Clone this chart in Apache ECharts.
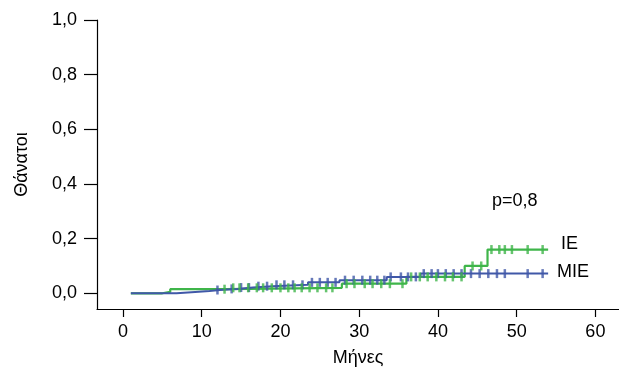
<!DOCTYPE html>
<html>
<head>
<meta charset="utf-8">
<script src="https://cdn.jsdelivr.net/npm/echarts@6/dist/echarts.min.js"></script>
<style>
  html, body { margin: 0; padding: 0; background: #fff; }
  #main { width: 619px; height: 369px; }
</style>
</head>
<body>
<div id="main"></div>
<script>
// step curves: [month, cumulative deaths] -- value holds until next point
const ieSteps = [[1, 0], [5, 0.005], [6, 0.015], [13, 0.02], [27.8, 0.035], [36, 0.06], [43.4, 0.1], [46.3, 0.16], [54, 0.16]];
const mieSteps = [[1, 0], [6.8, 0.004], [8.7, 0.008], [11, 0.012], [12.3, 0.016], [14.5, 0.021], [16.5, 0.026], [19, 0.031], [23.5, 0.04], [27.5, 0.048], [33.5, 0.06], [37.8, 0.072], [54, 0.072]];

// censored observations (months)
const ieCensored = [12.9, 14, 14.8, 15.9, 17, 17.8, 18.9, 20, 21, 21.8, 22.7, 23.7, 24.7, 25.8, 26.6,
  28.4, 29.4, 30.7, 31.7, 32.8, 33.9, 35.5, 36.6, 37.7, 38.7, 39.8, 40.9, 41.9, 43,
  44.4, 45.5, 46.8, 47.8, 48.5, 49.4, 51.4, 53.3];
const mieCensored = [12, 13.8, 15, 16, 17.2, 18.3, 19.5, 20.5, 21.6, 22.8, 24, 25, 26, 27, 28.2, 29.3,
  30.4, 31.4, 32.3, 33.2, 34, 35.3, 36.2, 37.2, 38.2, 39.2, 40, 41, 42, 43, 44.2, 45.3, 46.4, 47.5, 48.5, 51.4, 53.3];

const xTicks = [0, 10, 20, 30, 40, 50, 60];
const yTicks = [0, 0.2, 0.4, 0.6, 0.8, 1.0];

const green = '#3fb54a';
const blue = '#4058a8';

function valueAt(steps, t) {
  let v = steps[0][1];
  steps.forEach(s => { if (s[0] <= t) v = s[1]; });
  return v;
}

const chart = echarts.init(document.getElementById('main'));

const axisStyle = { color: '#000', width: 1.2 };
const font = 'Liberation Sans, Arial, sans-serif';

chart.setOption({
  animation: false,
  grid: { left: 97, right: 0, top: 20, bottom: 60, containLabel: false, outerBoundsMode: 'none' },
  xAxis: {
    type: 'value', min: -3.3, max: 63,
    name: 'Μήνες', nameLocation: 'middle', nameGap: 40,
    nameTextStyle: { color: '#000', fontSize: 18, fontFamily: font },
    axisLine: { show: true, onZero: false, lineStyle: axisStyle },
    axisTick: { show: true, length: 8, lineStyle: axisStyle, customValues: xTicks },
    axisLabel: { color: '#000', fontSize: 18, fontFamily: font, margin: 14, customValues: xTicks },
    splitLine: { show: false }
  },
  yAxis: {
    type: 'value', min: -0.0575, max: 1.0,
    name: 'Θάνατοι', nameLocation: 'middle', nameGap: 66,
    nameTextStyle: { color: '#000', fontSize: 18, fontFamily: font },
    axisLine: { show: true, onZero: false, lineStyle: axisStyle },
    axisTick: { show: true, length: 13, lineStyle: axisStyle, customValues: yTicks },
    axisLabel: {
      color: '#000', fontSize: 18, fontFamily: font, margin: 20, customValues: yTicks,
      formatter: v => v.toFixed(1).replace('.', ',')
    },
    splitLine: { show: false }
  },
  series: [
    {
      name: 'MIE', type: 'line', step: 'end', data: mieSteps, showSymbol: false,
      lineStyle: { color: blue, width: 2 }, z: 3
    },
    {
      name: 'IE', type: 'line', step: 'end', data: ieSteps, showSymbol: false,
      lineStyle: { color: green, width: 2.2 }, z: 2
    },
    {
      type: 'scatter', data: mieCensored.map(t => [t, valueAt(mieSteps, t)]),
      symbol: 'rect', symbolSize: [2.5, 9], itemStyle: { color: blue }, z: 4
    },
    {
      type: 'scatter', data: ieCensored.map(t => [t, valueAt(ieSteps, t)]),
      symbol: 'rect', symbolSize: [2.5, 9], itemStyle: { color: green }, z: 4
    }
  ],
  graphic: [
    { type: 'text', left: 492, top: 192, style: { text: 'p=0,8', fontSize: 18, fontFamily: font, fill: '#000' } },
    { type: 'text', left: 561, top: 235, style: { text: 'IE', fontSize: 18, fontFamily: font, fill: '#000' } },
    { type: 'text', left: 557, top: 263, style: { text: 'MIE', fontSize: 18, fontFamily: font, fill: '#000' } }
  ]
});
</script>
</body>
</html>
